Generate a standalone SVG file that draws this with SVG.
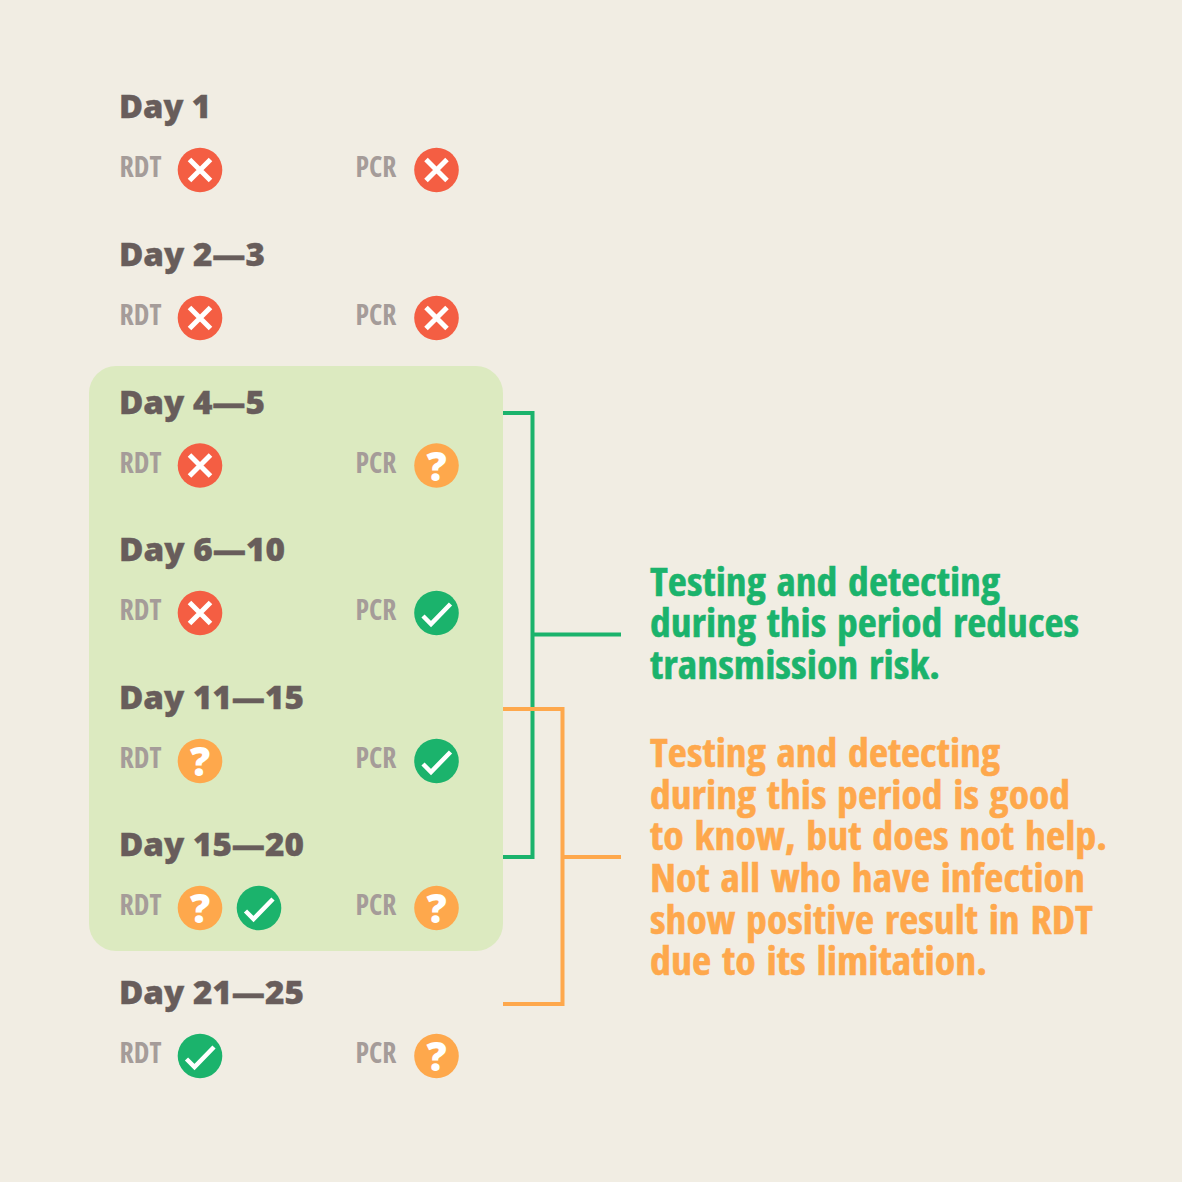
<svg xmlns="http://www.w3.org/2000/svg" xmlns:xlink="http://www.w3.org/1999/xlink" width="1182" height="1182" viewBox="0 0 1182 1182">
<style>
text{font-family:"Open Sans","Noto Sans","Liberation Sans",sans-serif;font-weight:700}
.d{font-size:32.5px;fill:#685d5b;font-weight:800;stroke:#685d5b;stroke-width:.4px}
.t{font-size:29px;fill:#a59c99;font-stretch:condensed}
.g{font-size:38.5px;fill:#1bb36c;stroke:#1bb36c;stroke-width:.5px;font-stretch:condensed;word-spacing:3px}
.o{font-size:38.5px;fill:#fea84c;stroke:#fea84c;stroke-width:.5px;font-stretch:condensed;word-spacing:3px}
.c{fill:none;stroke-width:4}
.w{fill:none;stroke:#fff;stroke-width:5}
</style>
<defs>
<g id="x"><circle r="22.3" fill="#f45e43"/><path class="w" d="M-10.500-10.500L10.500 10.500M10.500-10.500L-10.500 10.500"/></g>
<g id="k"><circle r="22.3" fill="#1bb36c"/><path class="w" style="stroke-width:4.500" d="M-13.500 3L-5.500 11L14-9"/></g>
<g id="q"><circle r="22.3" fill="#fea84c"/><text y="15" text-anchor="middle" style="font-size:40px;fill:#fff;font-weight:800">?</text></g>
</defs>
<rect width="1182" height="1182" fill="#f1ede3"/>
<rect id="highlight" x="89" y="366" width="414" height="585" rx="27" fill="#dceac0"/>
<g id="connectors">
<path class="c" stroke="#1bb36c" d="M503 413H532.500V857H503M532.500 634.500H621"/>
<path class="c" stroke="#fea84c" d="M503 709H562.500V1004H503M562.500 857H621"/>
</g>
<g id="day1"><text class="d" x="119" y="118" textLength="92" lengthAdjust="spacingAndGlyphs">Day 1</text><text class="t" x="119.500" y="177" textLength="42" lengthAdjust="spacingAndGlyphs">RDT</text><use xlink:href="#x" x="200" y="170"/><text class="t" x="355.500" y="177" textLength="41" lengthAdjust="spacingAndGlyphs">PCR</text><use xlink:href="#x" x="436.500" y="170"/></g>
<g id="day2"><text class="d" x="119" y="266" textLength="146" lengthAdjust="spacingAndGlyphs">Day 2—3</text><text class="t" x="119.500" y="325" textLength="42" lengthAdjust="spacingAndGlyphs">RDT</text><use xlink:href="#x" x="200" y="318"/><text class="t" x="355.500" y="325" textLength="41" lengthAdjust="spacingAndGlyphs">PCR</text><use xlink:href="#x" x="436.500" y="318"/></g>
<g id="day4"><text class="d" x="119" y="414" textLength="146" lengthAdjust="spacingAndGlyphs">Day 4—5</text><text class="t" x="119.500" y="473" textLength="42" lengthAdjust="spacingAndGlyphs">RDT</text><use xlink:href="#x" x="200" y="465.500"/><text class="t" x="355.500" y="473" textLength="41" lengthAdjust="spacingAndGlyphs">PCR</text><use xlink:href="#q" x="436.500" y="465.500"/></g>
<g id="day6"><text class="d" x="119" y="561" textLength="166" lengthAdjust="spacingAndGlyphs">Day 6—10</text><text class="t" x="119.500" y="620" textLength="42" lengthAdjust="spacingAndGlyphs">RDT</text><use xlink:href="#x" x="200" y="613"/><text class="t" x="355.500" y="620" textLength="41" lengthAdjust="spacingAndGlyphs">PCR</text><use xlink:href="#k" x="436.500" y="613"/></g>
<g id="day11"><text class="d" x="119" y="709" textLength="185" lengthAdjust="spacingAndGlyphs">Day 11—15</text><text class="t" x="119.500" y="768" textLength="42" lengthAdjust="spacingAndGlyphs">RDT</text><use xlink:href="#q" x="200" y="761"/><text class="t" x="355.500" y="768" textLength="41" lengthAdjust="spacingAndGlyphs">PCR</text><use xlink:href="#k" x="436.500" y="761"/></g>
<g id="day15"><text class="d" x="119" y="856" textLength="185" lengthAdjust="spacingAndGlyphs">Day 15—20</text><text class="t" x="119.500" y="915" textLength="42" lengthAdjust="spacingAndGlyphs">RDT</text><use xlink:href="#q" x="200" y="908"/><use xlink:href="#k" x="259" y="908"/><text class="t" x="355.500" y="915" textLength="41" lengthAdjust="spacingAndGlyphs">PCR</text><use xlink:href="#q" x="436.500" y="908"/></g>
<g id="day21"><text class="d" x="119" y="1004" textLength="185" lengthAdjust="spacingAndGlyphs">Day 21—25</text><text class="t" x="119.500" y="1063" textLength="42" lengthAdjust="spacingAndGlyphs">RDT</text><use xlink:href="#k" x="200" y="1056"/><text class="t" x="355.500" y="1063" textLength="41" lengthAdjust="spacingAndGlyphs">PCR</text><use xlink:href="#q" x="436.500" y="1056"/></g>
<g id="note-green">
<text class="g" x="650" y="596" textLength="350" lengthAdjust="spacingAndGlyphs">Testing and detecting</text>
<text class="g" x="650" y="637" textLength="429" lengthAdjust="spacingAndGlyphs">during this period reduces</text>
<text class="g" x="650" y="679" textLength="290" lengthAdjust="spacingAndGlyphs">transmission risk.</text>
</g>
<g id="note-orange">
<text class="o" x="650" y="767" textLength="350" lengthAdjust="spacingAndGlyphs">Testing and detecting</text>
<text class="o" x="650" y="809" textLength="420" lengthAdjust="spacingAndGlyphs">during this period is good</text>
<text class="o" x="650" y="850" textLength="457" lengthAdjust="spacingAndGlyphs">to know, but does not help.</text>
<text class="o" x="650" y="892" textLength="435" lengthAdjust="spacingAndGlyphs">Not all who have infection</text>
<text class="o" x="650" y="934" textLength="443" lengthAdjust="spacingAndGlyphs">show positive result in RDT</text>
<text class="o" x="650" y="975" textLength="337" lengthAdjust="spacingAndGlyphs">due to its limitation.</text>
</g>
</svg>
